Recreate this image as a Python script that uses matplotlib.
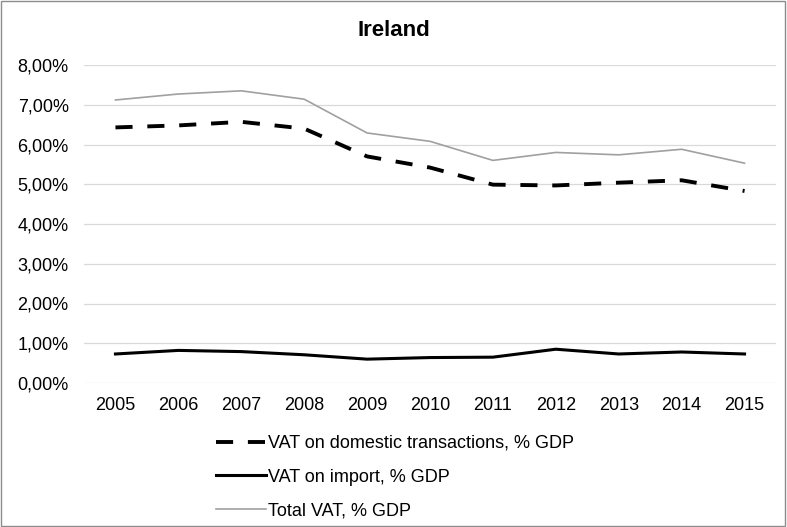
import numpy as np
import matplotlib.pyplot as plt
from matplotlib.patches import Rectangle

plt.rcParams['font.family'] = ['Liberation Sans', 'DejaVu Sans']

years = ['2005', '2006', '2007', '2008', '2009', '2010', '2011', '2012', '2013', '2014', '2015']

# wartosci w % PKB
vat_domestic = [6.43, 6.48, 6.57, 6.40, 5.70, 5.42, 4.99, 4.97, 5.04, 5.10, 4.83]
vat_import = [0.73, 0.82, 0.79, 0.71, 0.60, 0.64, 0.65, 0.85, 0.73, 0.78, 0.73]
vat_total = [7.12, 7.27, 7.35, 7.14, 6.29, 6.08, 5.60, 5.80, 5.74, 5.88, 5.53]

fig = plt.figure(figsize=(7.87, 5.27), dpi=100)
ax = fig.add_axes([84/787, 1 - 383/527, (776 - 84)/787, (383 - 65)/527])

x = np.arange(len(years))
l1, = ax.plot(x, vat_domestic, color='black', lw=2.8, label='VAT on domestic transactions, % GDP')
l1.set_dashes((4.4, 3.8))
ax.plot(x, vat_import, color='black', lw=2.2, label='VAT on import, % GDP')
ax.plot(x, vat_total, color='#a0a0a0', lw=1.2, label='Total VAT, % GDP')

ax.set_xlim(-0.5, len(years) - 0.5)
ax.set_ylim(0, 8)
ax.set_xticks(x)
ax.set_xticklabels(years, fontsize=13)
yt = np.arange(0, 9)
ax.set_yticks(yt)
ax.set_yticklabels(['%d,00%%' % v for v in yt], fontsize=13)
ax.tick_params(length=0)
ax.tick_params(axis='y', pad=11)
ax.tick_params(axis='x', pad=10)
ax.grid(axis='y', color='#d9d9d9', lw=0.9)
ax.set_axisbelow(True)
for s in ax.spines.values():
    s.set_visible(False)

fig.text(0.5, 1 - 30/527, 'Ireland', ha='center', va='center', fontsize=16, fontweight='bold')

fig.legend(loc='upper left', bbox_to_anchor=(216/787, 1 - 435/527), frameon=False,
           fontsize=13, handlelength=2.75, handletextpad=0.15, labelspacing=0.92,
           borderpad=0, borderaxespad=0)

# ramka wokol wykresu
fig.patches.append(Rectangle((0.001, 0.001), 0.997, 0.997, transform=fig.transFigure,
                             fill=False, edgecolor='#8c8c8c', lw=1))

fig.savefig('out.png', dpi=100)
